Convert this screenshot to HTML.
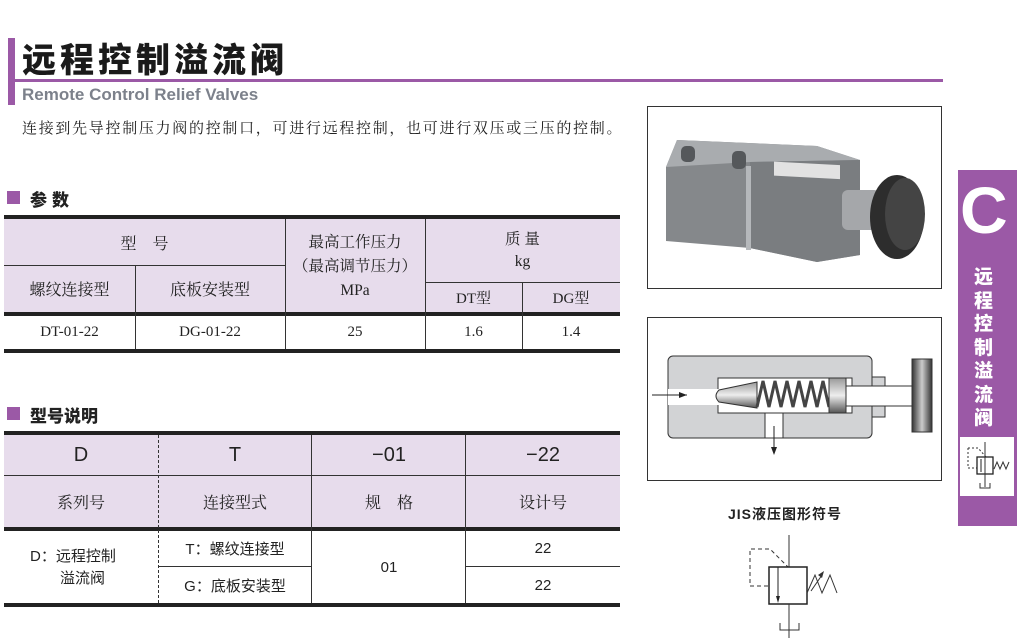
<!DOCTYPE html>
<html><head><meta charset="utf-8"><style>
*{margin:0;padding:0;box-sizing:border-box}
body{width:1017px;height:638px;background:#fff;position:relative;overflow:hidden;font-family:"Liberation Serif","Noto Serif CJK SC",serif;color:#222}
.a{position:absolute}
.sans{font-family:"Liberation Sans","Noto Sans CJK SC",sans-serif}
.c{display:flex;align-items:center;justify-content:center;text-align:center}
.lav{background:#e7dcec}
</style></head><body>
<div class="a" style="left:8px;top:38px;width:7px;height:67px;background:#9b59a6"></div>
<div class="a sans" style="left:22px;top:40px;font-size:34px;font-weight:900;letter-spacing:4px;color:#1a1a1a;line-height:42px">远程控制溢流阀</div>
<div class="a" style="left:15px;top:79px;width:928px;height:3px;background:#9b59a6"></div>
<div class="a sans" style="left:22px;top:85px;font-size:17px;font-weight:bold;color:#7c818b">Remote Control Relief Valves</div>
<div class="a" style="left:22px;top:117px;font-size:15px;letter-spacing:1.7px;font-family:'Liberation Serif','Noto Serif CJK SC',serif">连接到先导控制压力阀的控制口，可进行远程控制，也可进行双压或三压的控制。</div>

<div class="a" style="left:7px;top:191px;width:13px;height:13px;background:#9b59a6"></div>
<div class="a sans" style="left:30px;top:186px;font-size:17px;font-weight:900;letter-spacing:5px">参数</div>

<!-- table 1 -->
<div class="a lav" style="left:4px;top:219px;width:616px;height:94px"></div>
<div class="a" style="left:4px;top:215px;width:616px;height:4px;background:#222"></div>
<div class="a" style="left:4px;top:312px;width:616px;height:4px;background:#222"></div>
<div class="a" style="left:4px;top:349px;width:616px;height:4px;background:#222"></div>
<div class="a" style="left:4px;top:265px;width:282px;height:1px;background:#333"></div>
<div class="a" style="left:425px;top:282px;width:195px;height:1px;background:#333"></div>
<div class="a" style="left:135px;top:265px;width:1px;height:84px;background:#333"></div>
<div class="a" style="left:285px;top:219px;width:1px;height:130px;background:#333"></div>
<div class="a" style="left:425px;top:219px;width:1px;height:130px;background:#333"></div>
<div class="a" style="left:522px;top:282px;width:1px;height:67px;background:#333"></div>
<div class="a c" style="left:4px;top:219px;width:281px;height:46px;font-size:16px;word-spacing:20px">型　号</div>
<div class="a c" style="left:4px;top:265px;width:131px;height:47px;font-size:16px">螺纹连接型</div>
<div class="a c" style="left:135px;top:265px;width:150px;height:47px;font-size:16px">底板安装型</div>
<div class="a c" style="left:285px;top:222px;width:140px;height:90px;font-size:15.5px;line-height:24px">最高工作压力<br>（最高调节压力）<br>MPa</div>
<div class="a c" style="left:425px;top:222px;width:195px;height:58px;font-size:15.5px;line-height:22px">质 量<br>kg</div>
<div class="a c" style="left:425px;top:283px;width:97px;height:29px;font-size:15px">DT型</div>
<div class="a c" style="left:522px;top:283px;width:98px;height:29px;font-size:15px">DG型</div>
<div class="a c" style="left:4px;top:316px;width:131px;height:33px;font-size:15px">DT-01-22</div>
<div class="a c" style="left:135px;top:316px;width:150px;height:33px;font-size:15px">DG-01-22</div>
<div class="a c" style="left:285px;top:316px;width:140px;height:33px;font-size:15px">25</div>
<div class="a c" style="left:425px;top:316px;width:97px;height:33px;font-size:15px">1.6</div>
<div class="a c" style="left:522px;top:316px;width:98px;height:33px;font-size:15px">1.4</div>

<div class="a" style="left:7px;top:407px;width:13px;height:13px;background:#9b59a6"></div>
<div class="a sans" style="left:30px;top:402px;font-size:17px;font-weight:900">型号说明</div>

<!-- table 2 -->
<div class="a lav" style="left:4px;top:435px;width:616px;height:94px"></div>
<div class="a" style="left:4px;top:431px;width:616px;height:4px;background:#222"></div>
<div class="a" style="left:4px;top:527px;width:616px;height:4px;background:#222"></div>
<div class="a" style="left:4px;top:603px;width:616px;height:4px;background:#222"></div>
<div class="a" style="left:4px;top:475px;width:616px;height:1px;background:#333"></div>
<div class="a" style="left:158px;top:566px;width:154px;height:1px;background:#333"></div>
<div class="a" style="left:466px;top:566px;width:154px;height:1px;background:#333"></div>
<div class="a" style="left:158px;top:435px;width:0;height:168px;border-left:1px dashed #333"></div>
<div class="a" style="left:311px;top:435px;width:1px;height:168px;background:#333"></div>
<div class="a" style="left:465px;top:435px;width:1px;height:168px;background:#333"></div>
<div class="a c sans" style="left:4px;top:435px;width:154px;height:40px;font-size:20px">D</div>
<div class="a c sans" style="left:158px;top:435px;width:154px;height:40px;font-size:20px">T</div>
<div class="a c sans" style="left:312px;top:435px;width:154px;height:40px;font-size:20px">−01</div>
<div class="a c sans" style="left:466px;top:435px;width:154px;height:40px;font-size:20px">−22</div>
<div class="a c" style="left:4px;top:476px;width:154px;height:51px;font-size:16px">系列号</div>
<div class="a c" style="left:158px;top:476px;width:154px;height:51px;font-size:16px">连接型式</div>
<div class="a c" style="left:312px;top:476px;width:154px;height:51px;font-size:16px">规　格</div>
<div class="a c" style="left:466px;top:476px;width:154px;height:51px;font-size:16px">设计号</div>
<div class="a sans" style="left:30px;top:546px;font-size:15px;line-height:22px">D：远程控制<br>　　溢流阀</div>
<div class="a c sans" style="left:158px;top:531px;width:154px;height:35px;font-size:15px">T：螺纹连接型</div>
<div class="a c sans" style="left:158px;top:567px;width:154px;height:36px;font-size:15px">G：底板安装型</div>
<div class="a c sans" style="left:312px;top:531px;width:154px;height:72px;font-size:15px">01</div>
<div class="a c sans" style="left:466px;top:531px;width:154px;height:35px;font-size:15px">22</div>
<div class="a c sans" style="left:466px;top:567px;width:154px;height:36px;font-size:15px">22</div>

<!-- photo -->
<div class="a" style="left:647px;top:106px;width:295px;height:183px;border:1px solid #333"></div>
<svg class="a" style="left:647px;top:106px" width="295" height="183">
<polygon points="19,61 30,34 170,40 213,54 213,149 170,156 103,142 19,135" fill="#85888b"/>
<polygon points="19,61 30,34 170,40 213,54 103,56" fill="#a9acaf"/>
<polygon points="103,56 213,54 213,149 170,156 103,142" fill="#7a7d80"/>
<rect x="34" y="40" width="14" height="16" rx="5" fill="#55585b"/>
<rect x="85" y="45" width="14" height="18" rx="5" fill="#55585b"/>
<rect x="99" y="60" width="5" height="84" fill="#b5b8bb"/>
<rect x="127" y="49" width="66" height="14" fill="#e2e2e2" transform="skewY(3)"/>
<rect x="195" y="84" width="38" height="40" fill="#a5a7aa" rx="6"/>
<ellipse cx="250" cy="111" rx="27" ry="42" fill="#2d2d2d"/>
<ellipse cx="258" cy="108" rx="20" ry="36" fill="#444"/>
</svg>

<!-- section diagram -->
<div class="a" style="left:647px;top:317px;width:295px;height:164px;border:1px solid #333"></div>
<svg class="a" style="left:647px;top:317px" width="295" height="164">
<defs><linearGradient id="g" x1="0" y1="0" x2="0" y2="1"><stop offset="0" stop-color="#999"/><stop offset=".5" stop-color="#eee"/><stop offset="1" stop-color="#555"/></linearGradient>
<linearGradient id="k" x1="0" y1="0" x2="1" y2="0"><stop offset="0" stop-color="#333"/><stop offset=".5" stop-color="#ccc"/><stop offset="1" stop-color="#333"/></linearGradient></defs>
<rect x="21" y="39" width="204" height="82" rx="5" fill="#d2d3d5" stroke="#333"/>
<rect x="225" y="60" width="13" height="40" fill="#d2d3d5" stroke="#333"/>
<rect x="71" y="61" width="134" height="35" fill="#fff" stroke="#333"/>
<rect x="21" y="72" width="51" height="16" fill="#fff"/>
<rect x="118" y="96" width="18" height="25" fill="#fff" stroke="#333"/>
<rect x="190" y="69" width="76" height="20" fill="#fff" stroke="#333"/>
<rect x="190" y="73" width="76" height="12" fill="#fff"/>
<path d="M110,65 L72,73 Q66,79 72,85 L110,91Z" fill="url(#g)" stroke="#333"/>
<path d="M110,90 l6,-26 l6,26 l6,-26 l6,26 l6,-26 l6,26 l6,-26 l6,26 l6,-26 l6,26 l6,-26 l6,26" fill="none" stroke="#444" stroke-width="3"/>
<rect x="182" y="61" width="17" height="35" fill="url(#g)" stroke="#333"/>
<rect x="265" y="42" width="20" height="73" fill="url(#k)" stroke="#333"/>
<line x1="5" y1="78" x2="40" y2="78" stroke="#222"/><path d="M40,78 l-8,-3 v6z" fill="#222"/>
<line x1="127" y1="109" x2="127" y2="136" stroke="#222"/><path d="M127,138 l-3,-8 h6z" fill="#222"/>
</svg>

<!-- tab -->
<div class="a" style="left:958px;top:170px;width:59px;height:356px;background:#9b59a6"></div>
<div class="a sans" style="left:960px;top:170px;font-size:66px;font-weight:bold;color:#fff;line-height:80px">C</div>
<div class="a sans" style="left:974px;top:266px;width:24px;font-size:19px;font-weight:900;color:#fff;line-height:23.5px">远程控制溢流阀</div>
<div class="a" style="left:960px;top:437px;width:54px;height:59px;background:#fff"></div>
<svg class="a" style="left:960px;top:437px" width="54" height="59">
<path d="M8,11 h10 l8,9 M8,11 v20 h9" stroke="#333" fill="none" stroke-dasharray="2,2"/>
<rect x="17" y="20" width="16" height="17" fill="none" stroke="#222" stroke-width="1.3"/>
<line x1="21" y1="22" x2="21" y2="35" stroke="#222"/>
<line x1="25" y1="5" x2="25" y2="50" stroke="#333"/>
<path d="M20,46 v5 h10 v-5" stroke="#333" fill="none"/>
<path d="M34,32 l3,-7 l3,7 l3,-7 l3,7 l3,-7" stroke="#333" fill="none"/>
</svg>

<div class="a sans" style="left:728px;top:504px;font-size:14px;font-weight:bold;letter-spacing:1px">JIS液压图形符号</div>
<svg class="a" style="left:740px;top:535px" width="120" height="103">
<line x1="49" y1="0" x2="49" y2="35" stroke="#333"/>
<path d="M28,51 h-18 v-37 h20 l18,18" stroke="#333" fill="none" stroke-dasharray="4,3"/>
<rect x="29" y="32" width="38" height="37" fill="#fff" stroke="#222" stroke-width="1.5"/>
<line x1="38" y1="32" x2="38" y2="66" stroke="#222"/><path d="M38,68 l-2,-7 h4z" fill="#222"/>
<line x1="49" y1="69" x2="49" y2="103" stroke="#333"/>
<path d="M40,88 v7 h19 v-7" stroke="#333" fill="none"/>
<path d="M67,58 l8,-18 l7,18 l8,-18 l7,18" stroke="#333" fill="none"/>
<line x1="71" y1="56" x2="82" y2="40" stroke="#333"/><path d="M84,36 l-6,4 l4,3z" fill="#333"/>
</svg>
</body></html>
